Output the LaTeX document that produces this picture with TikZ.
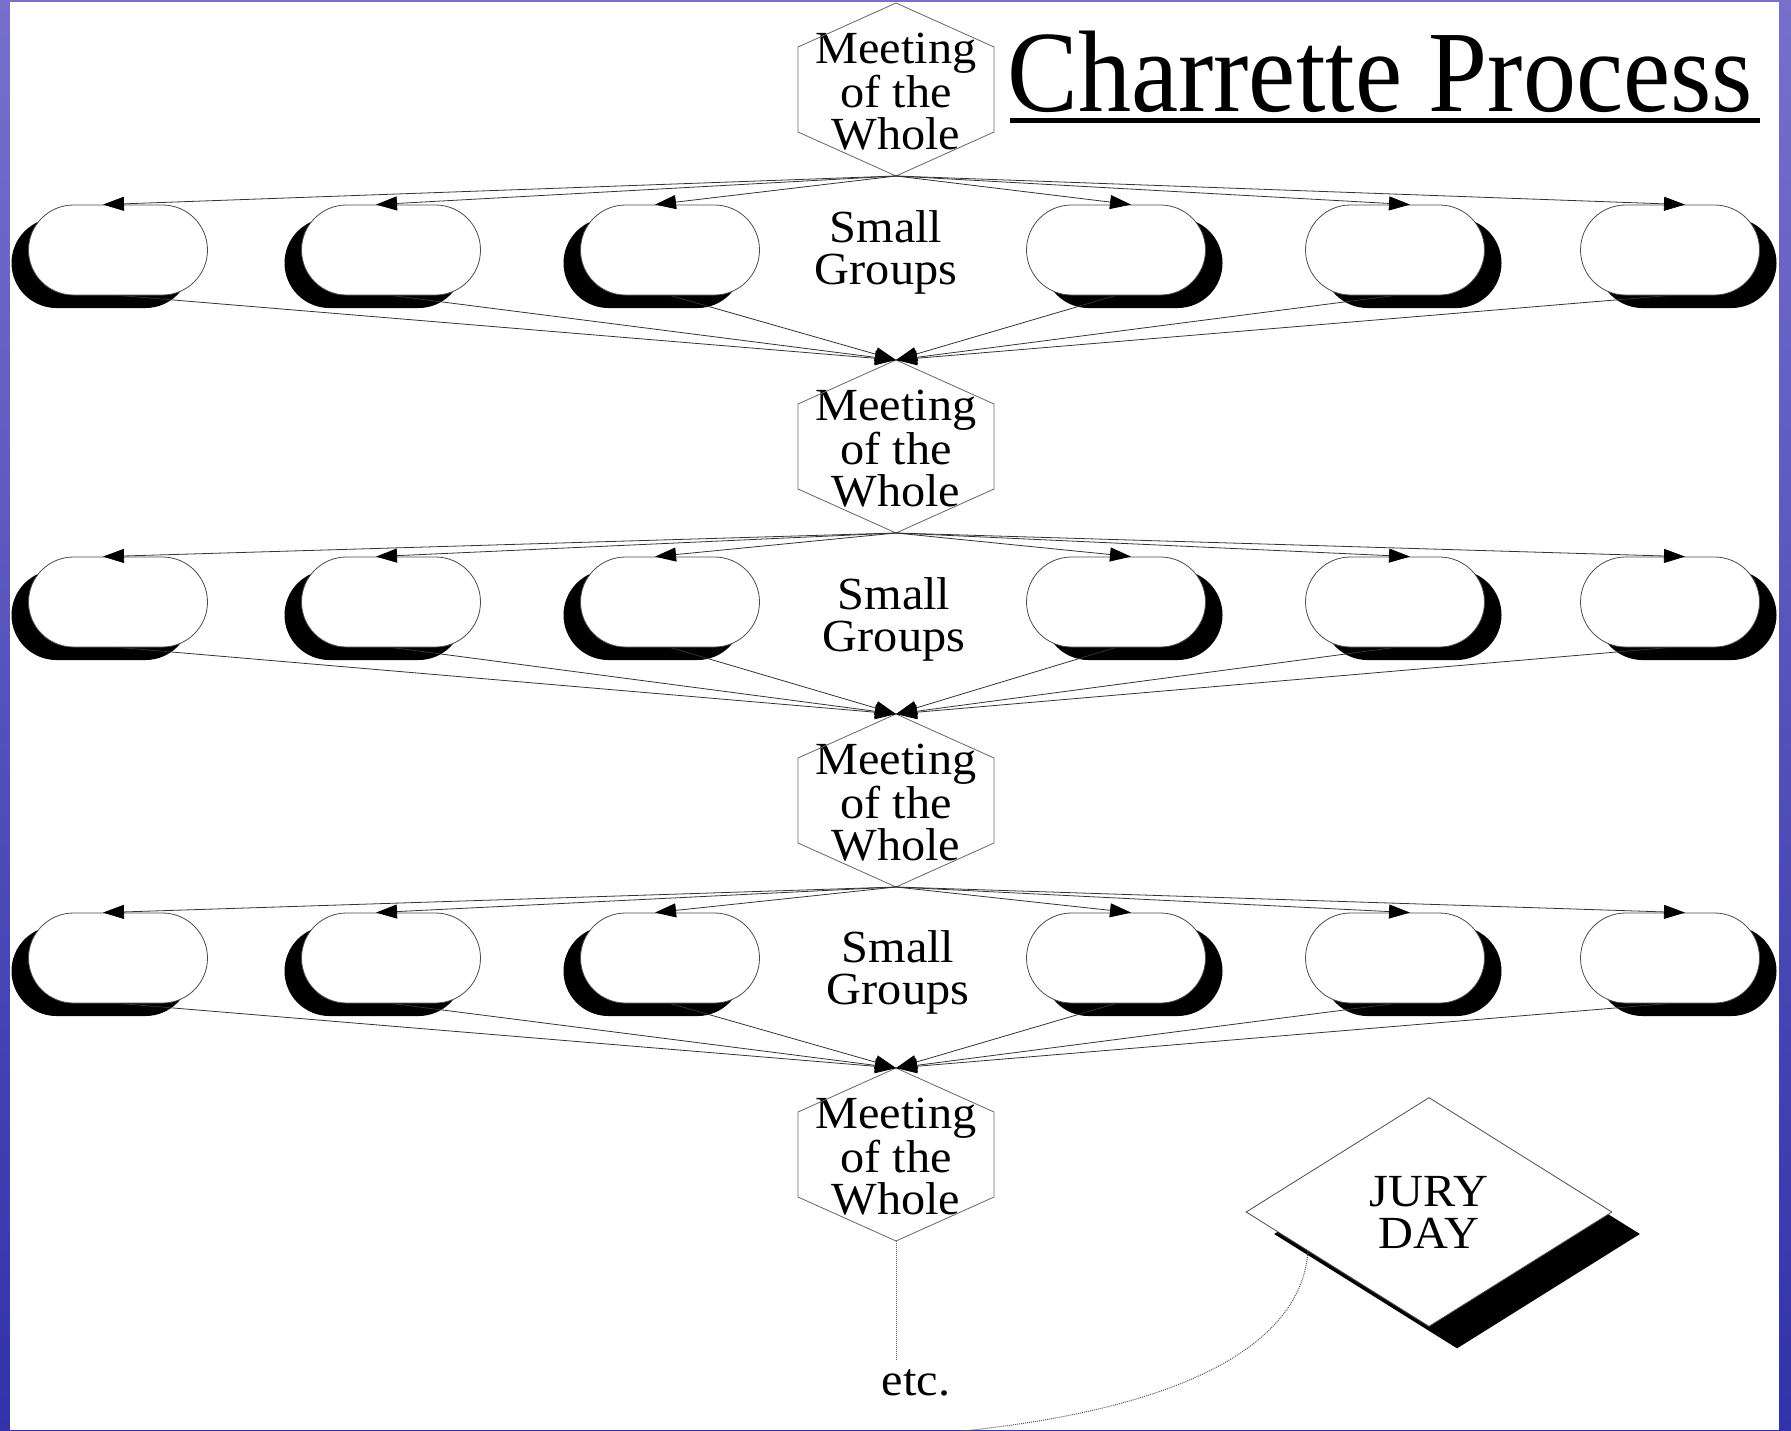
\documentclass[tikz,border=0pt]{standalone}
\usepackage{fontspec}
\setmainfont{Liberation Serif}
\newfontfamily\boxfont[FakeStretch=1.05]{Liberation Serif}
\newfontfamily\titlefont[FakeStretch=0.915]{Liberation Serif}
\usetikzlibrary{arrows.meta,positioning,calc,shapes.misc,shapes.geometric,shadows}

\definecolor{slideTop}{RGB}{118,112,204}
\definecolor{slideMid}{RGB}{196,196,236}
\definecolor{slideBot}{RGB}{50,50,170}

\tikzset{
  meet/.style={align=center,inner sep=0pt,font=\boxfont\fontsize{46}{42}\selectfont},
  group/.style={rounded rectangle,draw=black!70,line width=0.8pt,fill=white,
    minimum width=179pt,minimum height=90pt,inner sep=0pt},
  groupL/.style={group,general shadow={shadow xshift=-17pt,shadow yshift=-13pt,fill=black}},
  groupR/.style={group,general shadow={shadow xshift=17pt,shadow yshift=-13pt,fill=black}},
  link/.style={draw=black!80,line width=0.8pt,-{Triangle[length=21pt,width=14pt,color=black]}},
  hexline/.style={draw=black!60,line width=0.8pt},
  etcline/.style={densely dotted,draw=black!65,line width=1pt},
}

\begin{document}
\begin{tikzpicture}[x=1pt,y=-1pt]
\useasboundingbox (0,0) rectangle (1791,1430);
% slide background
\shade[top color=slideTop,middle color=slideMid,bottom color=slideBot] (0,0) rectangle (1791,1430);
\fill[white] (10,2) rectangle (1779,1430);

% title
\node[font=\titlefont\fontsize{116}{120}\selectfont,inner sep=0pt,anchor=base west] (title) at (1007,111) {Charrette Process};
\draw[line width=5pt] ([xshift=3pt,yshift=-9.5pt]title.base west) -- ([xshift=7pt,yshift=-9.5pt]title.base east);

% meetings of the whole
\foreach \i/\y in {1/89.5,2/446.5,3/800.5,4/1154.5} {
  \node[meet] (m\i) at (896,\y+2) {Meeting\\of the\\Whole};
  \draw[hexline] ($(m\i)+(0,-88.5)$) coordinate (m\i-top) -- ++(98,44) -- ++(0,85)
    -- ++(-98,44) coordinate (m\i-bot) -- ++(-98,-44) -- ++(0,-85) -- cycle;
}

% small groups
\foreach \r/\y in {1/250,2/602,3/958} {
  \foreach \j/\x in {1/118,2/391,3/670} \node[groupL] (g\r\j) at (\x,\y) {};
  \foreach \j/\x in {4/1116,5/1395,6/1670} \node[groupR] (g\r\j) at (\x,\y) {};
}
\node[meet] (sg1) at (886,252) {Small\\Groups};
\node[meet] (sg2) at (894,619) {Small\\Groups};
\node[meet] (sg3) at (898,972) {Small\\Groups};

% out to the groups and back again
\foreach \r/\n in {1/2,2/3,3/4} {
  \foreach \j in {1,2,3} {
    \draw[link] (m\r-bot) -- ([xshift=-15pt]g\r\j.north);
    \draw[link] (g\r\j.south) -- (m\n-top);
  }
  \foreach \j in {4,5,6} {
    \draw[link] (m\r-bot) -- ([xshift=15pt]g\r\j.north);
    \draw[link] (g\r\j.south) -- (m\n-top);
  }
}

% jury day
\node[diamond,draw=black!70,line width=0.8pt,fill=white,minimum width=366pt,minimum height=229pt,
  general shadow={shadow xshift=28pt,shadow yshift=-22pt,fill=black},meet] (jury) at (1429,1212) {JURY\\DAY};

\node[meet,anchor=base] (etc) at (916,1395) {etc.};
\draw[etcline,shorten >=9pt] (m4-bot) -- (m4-bot |- etc.north);

\coordinate (juryfoot) at ($(jury.west)!0.34!(jury.south)$);
\coordinate (offpage) at (905,1436);
\draw[etcline] (juryfoot) .. controls ($(juryfoot)+(-6,88)$) and ($(offpage)+(290,-20)$) .. (offpage);
\end{tikzpicture}
\end{document}
